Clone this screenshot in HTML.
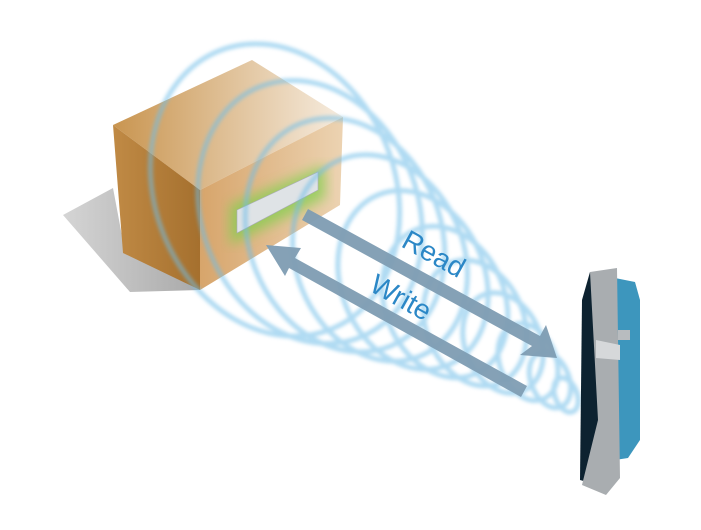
<!DOCTYPE html><html><head><style>body{margin:0;background:#fff}svg{display:block}</style></head><body>
<svg width="701" height="530" viewBox="0 0 701 530" xmlns="http://www.w3.org/2000/svg">
<defs>
<linearGradient id="top" x1="0" y1="0" x2="1" y2="0"><stop offset="0" stop-color="#c99550"/><stop offset="1" stop-color="#f6ecdf"/></linearGradient>
<linearGradient id="left" x1="0" y1="0" x2="1" y2="0"><stop offset="0" stop-color="#c08a45"/><stop offset="1" stop-color="#a5702e"/></linearGradient>
<linearGradient id="front" x1="0" y1="0" x2="1" y2="0"><stop offset="0" stop-color="#d7a56b"/><stop offset="1" stop-color="#ecd3b2"/></linearGradient>
<linearGradient id="shad" x1="0" y1="0" x2="1" y2="0"><stop offset="0" stop-color="#d5d5d5"/><stop offset="1" stop-color="#a9a9a9"/></linearGradient>
<filter id="bl" x="-20%" y="-20%" width="140%" height="140%"><feGaussianBlur stdDeviation="1.8"/></filter>
<filter id="gl"><feGaussianBlur stdDeviation="6"/></filter>
</defs>
<polygon points="63,215 113,188 125,252 200,290 130,292" fill="url(#shad)"/>
<polygon points="113,125 252,60 343,117 200,190" fill="url(#top)"/>
<polygon points="113,125 200,190 200,290 123,253" fill="url(#left)"/>
<polygon points="200,190 343,117 340,205 200,290" fill="url(#front)"/>
<polygon points="230,205 325,165 325,198 230,245" fill="#7bd04a" opacity=".7" filter="url(#gl)"/>
<polygon points="237,210 318,172 318,190 237,233" fill="#dfe3e6" stroke="#aab" stroke-width=".6"/>
<g fill="none" stroke="#6fbde8" stroke-width="5" opacity=".55" filter="url(#bl)">
<ellipse cx="275" cy="190" rx="120" ry="150" transform="rotate(-22 275 190)"/>
<ellipse cx="310" cy="212" rx="108" ry="135" transform="rotate(-22 310 212)"/>
<ellipse cx="345" cy="235" rx="96" ry="120" transform="rotate(-22 345 235)"/>
<ellipse cx="380" cy="258" rx="84" ry="106" transform="rotate(-22 380 258)"/>
<ellipse cx="413" cy="280" rx="72" ry="92" transform="rotate(-22 413 280)"/>
<ellipse cx="445" cy="302" rx="60" ry="78" transform="rotate(-22 445 302)"/>
<ellipse cx="475" cy="323" rx="49" ry="65" transform="rotate(-22 475 323)"/>
<ellipse cx="503" cy="343" rx="38" ry="52" transform="rotate(-22 503 343)"/>
<ellipse cx="528" cy="362" rx="28" ry="40" transform="rotate(-22 528 362)"/>
<ellipse cx="550" cy="380" rx="19" ry="29" transform="rotate(-22 550 380)"/>
<ellipse cx="566" cy="395" rx="11" ry="18" transform="rotate(-22 566 395)"/>
</g>
<g fill="#7f9db3" opacity=".95">
<polygon points="308,209 540,336 546,325 557,358 520,355 532,346 302,220"/>
<polygon points="527,386 295,258 301,248 266,245 285,276 289,268 521,397"/>
</g>
<text x="0" y="0" font-family="Liberation Sans,sans-serif" font-size="28" fill="#2b87c6" transform="translate(400,246) rotate(29)">Read</text>
<text x="0" y="0" font-family="Liberation Sans,sans-serif" font-size="28" fill="#2b87c6" transform="translate(368,290) rotate(29)">Write</text>
<polygon points="615,278 635,282 640,300 640,440 628,458 615,460" fill="#3d96bd"/>
<polygon points="582,300 590,272 600,290 598,485 580,480" fill="#0d2230"/>
<polygon points="590,272 617,268 620,478 606,495 582,485 598,420" fill="#a9adb0"/>
<polygon points="596,340 620,345 620,360 596,358" fill="#d6d8da"/>
<rect x="618" y="330" width="12" height="10" fill="#b8bcbf"/>
</svg></body></html>
